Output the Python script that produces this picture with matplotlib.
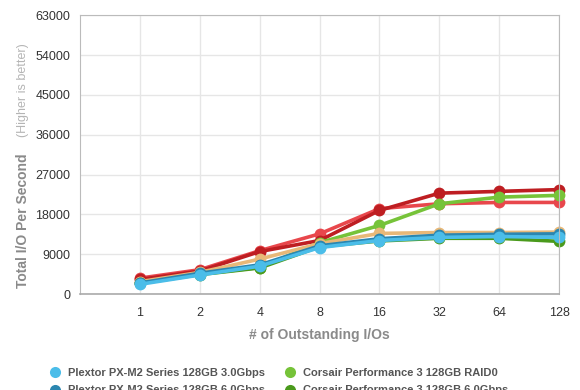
import matplotlib
matplotlib.use("Agg")
import matplotlib.pyplot as plt
import numpy as np

# queue depths on the x axis
queue_depths = ["1", "2", "4", "8", "16", "32", "64", "128"]

# IOPS per drive
plextor_3g = [2200, 4300, 6300, 10500, 12100, 12800, 13000, 12800]
plextor_6g = [2500, 4700, 6600, 10900, 12500, 13300, 13500, 13600]
corsair_raid0 = [2600, 4500, 6000, 11600, 15500, 20400, 21900, 22300]
corsair_6g = [2400, 4400, 5900, 10700, 12000, 12600, 12600, 11900]
tan_series = [2800, 4900, 7900, 11400, 13700, 13900, 13900, 14000]
red_series = [3600, 5500, 9800, 13600, 19300, 20400, 20700, 20700]
darkred_series = [3300, 5200, 9600, 12100, 18900, 22800, 23200, 23600]

y_ticks = [0, 9000, 18000, 27000, 36000, 45000, 54000, 63000]

plt.rcParams['font.family'] = ['Liberation Sans', 'DejaVu Sans']

fig = plt.figure(figsize=(5.8, 3.9), dpi=100)
ax = fig.add_axes([0.138, 0.246, 0.826, 0.715])

x = np.arange(1, len(queue_depths) + 1)

# drawing order: back to front
series = [
    (red_series, "#e8474c", None),
    (darkred_series, "#be1e22", None),
    (corsair_raid0, "#76c339", "Corsair Performance 3 128GB RAID0"),
    (tan_series, "#e8b878", None),
    (corsair_6g, "#4a9a1c", "Corsair Performance 3 128GB 6.0Gbps"),
    (plextor_6g, "#2b86b0", "Plextor PX-M2 Series 128GB 6.0Gbps"),
    (plextor_3g, "#4bbde9", "Plextor PX-M2 Series 128GB 3.0Gbps"),
]
handles = {}
for vals, col, name in series:
    h, = ax.plot(x, vals, color=col, lw=2.6, marker="o", ms=8.5,
                 markeredgewidth=0, solid_capstyle="round", clip_on=False)
    if name:
        handles[name] = h

ax.set_xlim(0, 8)
ax.set_ylim(0, 63000)
ax.set_xticks(x)
ax.set_xticklabels(queue_depths)
ax.set_yticks(y_ticks)
ax.grid(True, color="#e6e6e6", lw=1)
ax.set_axisbelow(True)
for s in ["left", "top", "right"]:
    ax.spines[s].set_color("#bbbbbb")
ax.spines["bottom"].set_color("#aaaaaa")
ax.spines["bottom"].set_linewidth(1.2)
ax.tick_params(length=0, labelsize=9, colors="#333333")
ax.tick_params(axis="x", pad=9)
ax.tick_params(axis="y", pad=7)

ax.set_xlabel("# of Outstanding I/Os", fontsize=10, color="#8a8a8a",
              fontweight="bold", labelpad=7)
fig.text(0.040, 0.433, "Total I/O Per Second", rotation=90, fontsize=10,
         color="#8a8a8a", fontweight="bold", ha="center", va="center")
fig.text(0.040, 0.768, "(Higher is better)", rotation=90, fontsize=9,
         color="#b5b5b5", ha="center", va="center")

order = ["Plextor PX-M2 Series 128GB 3.0Gbps", "Plextor PX-M2 Series 128GB 6.0Gbps",
         "Corsair Performance 3 128GB RAID0", "Corsair Performance 3 128GB 6.0Gbps"]
leg = fig.legend([handles[n] for n in order], order, ncol=2,
                 loc="upper left", bbox_to_anchor=(0.072, 0.083),
                 frameon=False, fontsize=8, handlelength=0.6,
                 handletextpad=0.9, columnspacing=1.9, labelspacing=0.7)
for h in leg.legend_handles:
    h.set_linestyle("none")
    h.set_markersize(8)
for t in leg.get_texts():
    t.set_color("#555555")
    t.set_fontweight("bold")

fig.savefig("out.png", dpi=100)
